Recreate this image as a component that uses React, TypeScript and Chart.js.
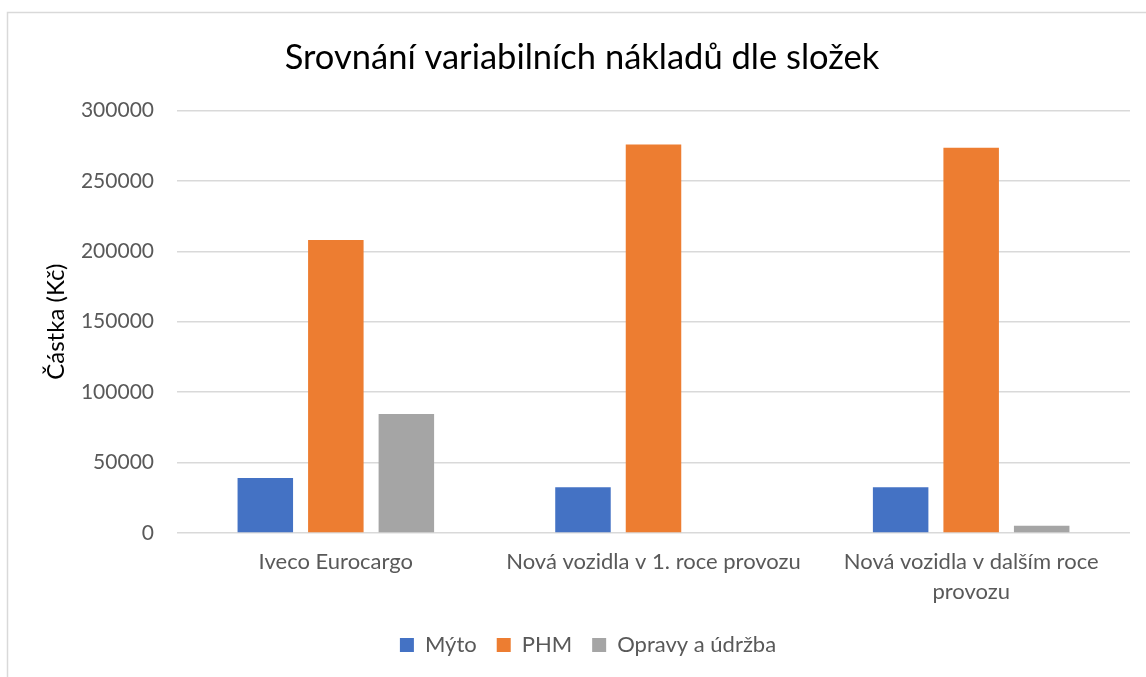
import React, { useEffect, useRef } from "react";
import { Chart, registerables } from "chart.js";

Chart.register(...registerables);

const categories: (string | string[])[] = [
  "Iveco Eurocargo",
  "Nová vozidla v 1. roce provozu",
  ["Nová vozidla v dalším roce", "provozu"],
];
const mytoValues = [39000, 32500, 32500];
const phmValues = [208000, 275800, 273500];
const opravyValues = [84500, 0, 5200];

const seriesNames = ["Mýto", "PHM", "Opravy a údržba"];
const seriesColors = ["#4472C4", "#ED7D31", "#A5A5A5"];

const yMin = 0;
const yMax = 300000;
const yStep = 50000;

const FONT = "Lato";

const borderPlugin = {
  id: "frameBorder",
  beforeDraw(chart: any) {
    const ctx = chart.ctx;
    ctx.save();
    ctx.fillStyle = "#ffffff";
    ctx.fillRect(0, 0, chart.width, chart.height);
    ctx.strokeStyle = "#D9D9D9";
    ctx.lineWidth = 1.5;
    ctx.beginPath();
    ctx.moveTo(7.5, chart.height + 5);
    ctx.lineTo(7.5, 12.5);
    ctx.lineTo(chart.width + 5, 12.5);
    ctx.stroke();
    ctx.restore();
  },
};

// The original chart frame extends past the right edge, so its title and
// legend are centred a little to the right of the canvas centre.
const shiftPlugin = {
  id: "centerShift",
  afterLayout(chart: any) {
    if (chart.titleBlock) {
      chart.titleBlock.left += 12;
      chart.titleBlock.right += 12;
    }
    if (chart.legend) {
      chart.legend.left += 18;
      chart.legend.right += 18;
    }
  },
};

export default function App() {
  const ref = useRef<HTMLCanvasElement | null>(null);

  useEffect(() => {
    if (!ref.current) return;
    const datasets = [mytoValues, phmValues, opravyValues].map((vals, i) => ({
      label: seriesNames[i],
      data: vals,
      backgroundColor: seriesColors[i],
      borderWidth: 0,
      categoryPercentage: 0.666,
      barPercentage: 0.787,
    }));
    const chart = new Chart(ref.current, {
      type: "bar",
      data: { labels: categories as any, datasets },
      options: {
        responsive: false,
        animation: false,
        layout: { padding: { left: 10, right: 16, top: 12, bottom: 11 } },
        plugins: {
          title: {
            display: true,
            text: "Srovnání variabilních nákladů dle složek",
            color: "#000000",
            font: { family: FONT, size: 34.5, weight: "normal" },
            padding: { top: 25, bottom: 32 },
          },
          legend: {
            position: "bottom",
            labels: {
              color: "#595959",
              font: { family: FONT, size: 22 },
              boxWidth: 14,
              boxHeight: 14,
              padding: 20,
            },
          },
          tooltip: { enabled: false },
        },
        scales: {
          x: {
            grid: { display: false },
            border: { display: false },
            ticks: {
              color: "#595959",
              font: { family: FONT, size: 22, lineHeight: 1.35 },
              padding: 6,
              maxRotation: 0,
              autoSkip: false,
            },
            afterFit(scale: any) {
              scale.height = 81;
            },
          },
          y: {
            min: yMin,
            max: yMax,
            ticks: {
              stepSize: yStep,
              color: "#595959",
              font: { family: FONT, size: 21 },
              padding: 23,
              callback: (v: any) => String(v),
            },
            grid: { color: "#D9D9D9", lineWidth: 1.5, drawTicks: false },
            border: { display: false },
            title: {
              display: true,
              text: "Částka (Kč)",
              color: "#000000",
              font: { family: FONT, size: 24, weight: "normal" },
              padding: { top: 32, bottom: 0 },
            },
            afterFit(scale: any) {
              scale.width = 167;
            },
          },
        },
      },
      plugins: [borderPlugin, shiftPlugin],
    });
    return () => chart.destroy();
  }, []);

  return (
    <div style={{ position: "absolute", left: 0, top: 0, width: 1146, height: 677, overflow: "hidden" }}>
      <canvas ref={ref} width={1146} height={677} />
    </div>
  );
}
